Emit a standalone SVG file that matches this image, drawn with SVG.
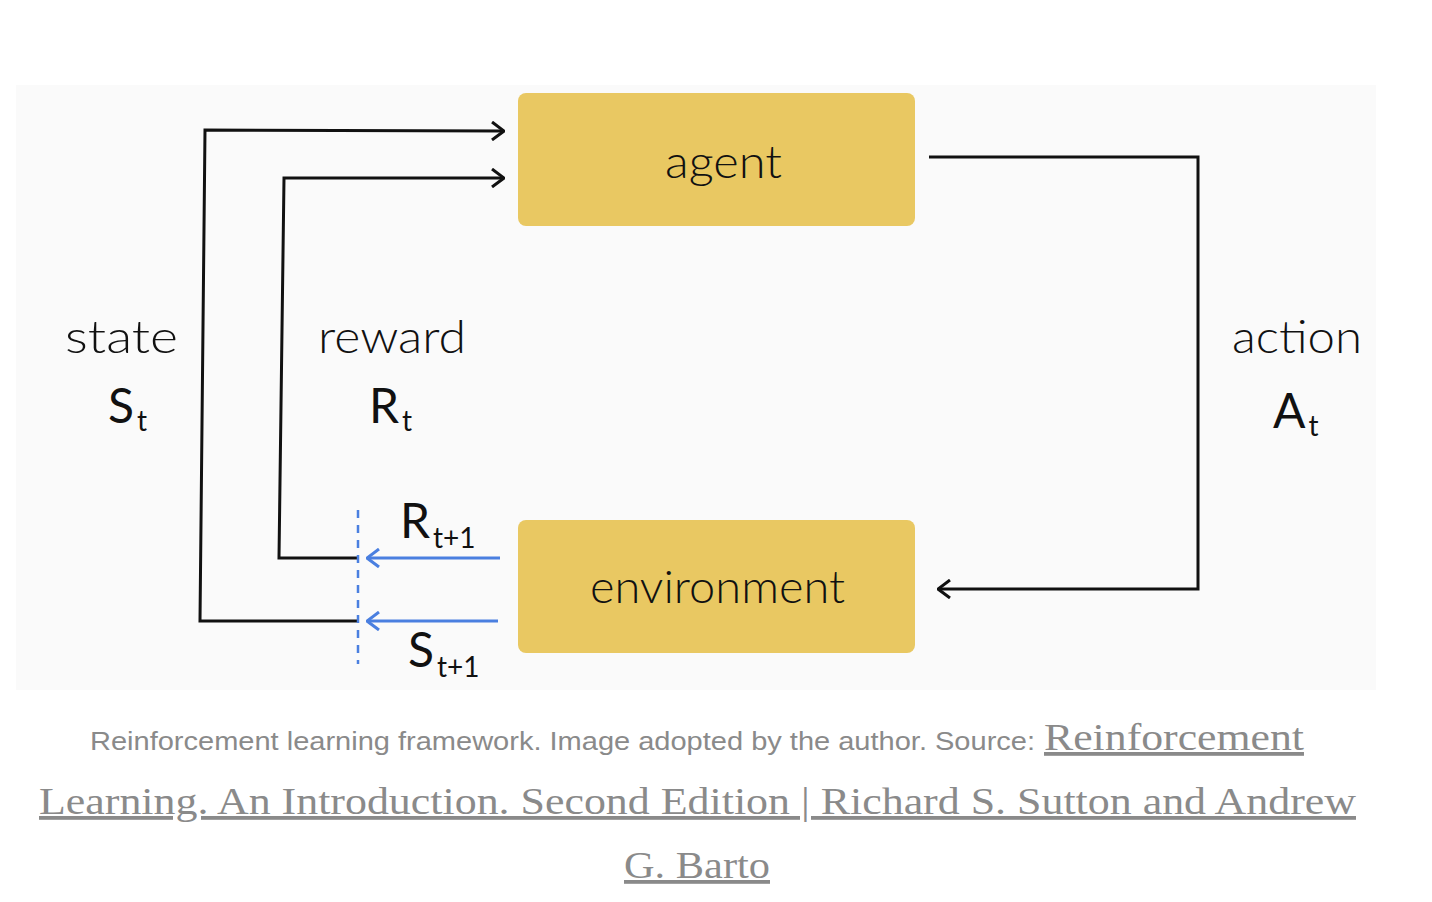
<svg xmlns="http://www.w3.org/2000/svg" width="1432" height="902" viewBox="0 0 1432 902">
<defs>
<style>
.node{fill:#e9c862}
.lbl{font-family:Lato,"Noto Sans",sans-serif;font-size:45px;font-weight:300;fill:#111}
.sym{font-family:Lato,"Noto Sans",sans-serif;font-size:48px;font-weight:400;fill:#111}
.sub{font-size:28px}
.blk{fill:none;stroke:#111;stroke-width:3}
.blu{fill:none;stroke:#4a7fe0;stroke-width:3}
.cap{font-family:"Liberation Sans",Arial,sans-serif;font-size:26px;fill:#8a8a8a}
.lnk{font-family:"Liberation Serif","Times New Roman",serif;font-size:38px;fill:#8a8a8a;text-decoration:underline}
</style>
<marker id="ak" viewBox="0 0 14 20" refX="13" refY="10" markerWidth="14" markerHeight="20" markerUnits="userSpaceOnUse" orient="auto">
<path d="M1,1 L13,10 L1,19" fill="none" stroke="#111" stroke-width="3"/>
</marker>
<marker id="ab" viewBox="0 0 14 20" refX="13" refY="10" markerWidth="14" markerHeight="20" markerUnits="userSpaceOnUse" orient="auto">
<path d="M1,1 L13,10 L1,19" fill="none" stroke="#4a7fe0" stroke-width="3"/>
</marker>
</defs>
<rect width="1432" height="902" fill="#fff"/>
<rect x="16" y="85" width="1360" height="605" fill="#fafafa"/>

<g id="agent">
<rect class="node" x="518" y="93" width="397" height="133" rx="8"/>
<text class="lbl" x="665" y="178" textLength="117" lengthAdjust="spacingAndGlyphs">agent</text>
</g>
<g id="environment">
<rect class="node" x="518" y="520" width="397" height="133" rx="8"/>
<text class="lbl" x="590" y="603" textLength="255" lengthAdjust="spacingAndGlyphs">environment</text>
</g>

<g id="connectors">
<polyline class="blk" points="358,621 200,621 205,130 504,131" marker-end="url(#ak)"/>
<polyline class="blk" points="358,558 279,558 284,178 504,178" marker-end="url(#ak)"/>
<polyline class="blk" points="929,157 1198,157 1198,589 938,589" marker-end="url(#ak)"/>
<line class="blu" x1="500" y1="558" x2="367" y2="558" marker-end="url(#ab)"/>
<line class="blu" x1="498" y1="621" x2="367" y2="621" marker-end="url(#ab)"/>
<line x1="358" y1="510" x2="358" y2="664" stroke="#4a7fe0" stroke-width="2.5" stroke-dasharray="8,7"/>
</g>

<g id="labels">
<text class="lbl" x="65" y="353" textLength="113" lengthAdjust="spacingAndGlyphs">state</text>
<text class="sym" x="108" y="423">S<tspan class="sub" dx="3" dy="8">t</tspan></text>
<text class="lbl" x="318" y="353" textLength="148" lengthAdjust="spacingAndGlyphs">reward</text>
<text class="sym" x="369" y="423">R<tspan class="sub" dx="3" dy="8">t</tspan></text>
<text class="lbl" x="1232" y="353" textLength="130" lengthAdjust="spacingAndGlyphs">action</text>
<text class="sym" x="1273" y="428">A<tspan class="sub" dx="3" dy="8">t</tspan></text>
<text class="sym" x="400" y="538">R<tspan class="sub" dx="3" dy="10">t+1</tspan></text>
<text class="sym" x="408" y="667">S<tspan class="sub" dx="3" dy="10">t+1</tspan></text>
</g>

<g id="caption">
<text class="cap" x="90" y="750" textLength="945" lengthAdjust="spacingAndGlyphs">Reinforcement learning framework. Image adopted by the author. Source:</text>
<text class="lnk" x="1044" y="750" textLength="260" lengthAdjust="spacingAndGlyphs">Reinforcement</text>
<text class="lnk" x="39" y="814" textLength="1317" lengthAdjust="spacingAndGlyphs">Learning. An Introduction. Second Edition | Richard S. Sutton and Andrew</text>
<text class="lnk" x="624" y="878" textLength="146" lengthAdjust="spacingAndGlyphs">G. Barto</text>
</g>
</svg>
